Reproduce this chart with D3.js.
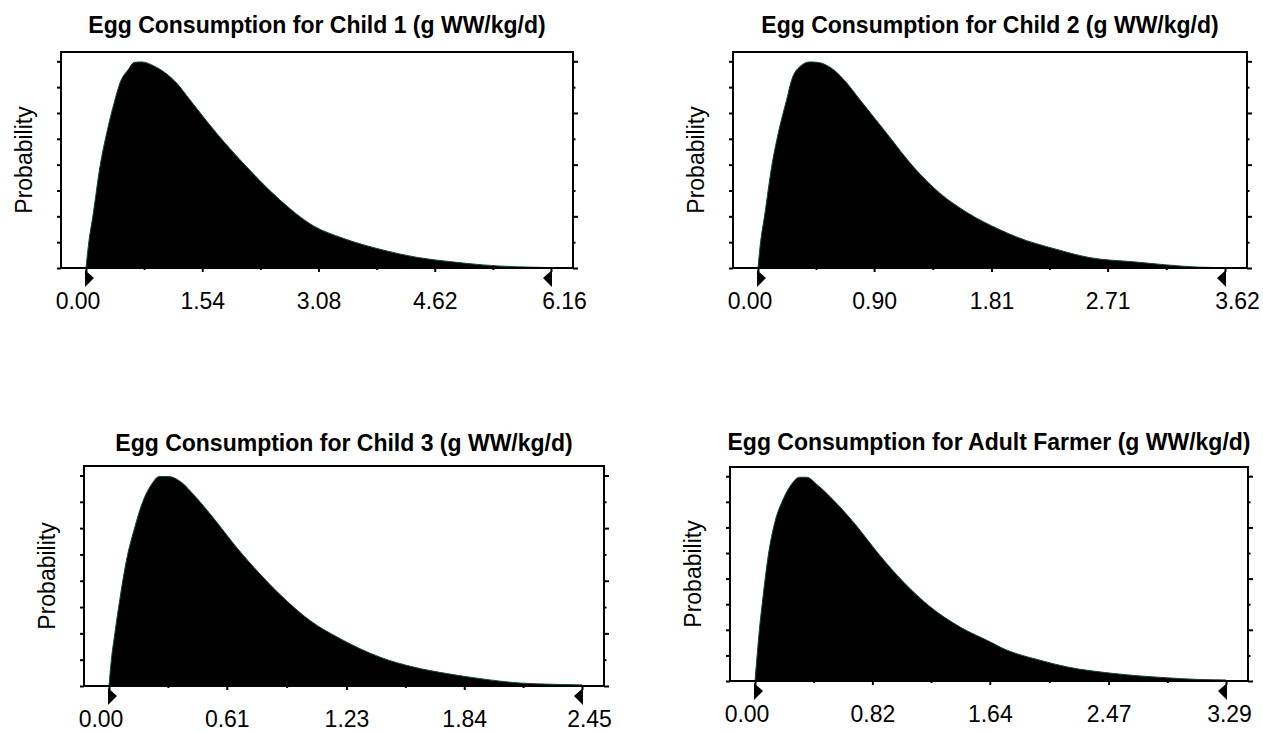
<!DOCTYPE html>
<html>
<head>
<meta charset="utf-8">
<script src="https://cdn.jsdelivr.net/npm/d3@7"></script>
<style>
  body { margin: 0; background: #fff; }
  svg { display: block; font-family: "Liberation Sans", Arial, sans-serif; }
</style>
</head>
<body>
<svg id="chart" width="1263" height="733"></svg>
<script>
// chart titles
var titles = [
  "Egg Consumption for Child 1 (g WW/kg/d)",
  "Egg Consumption for Child 2 (g WW/kg/d)",
  "Egg Consumption for Child 3 (g WW/kg/d)",
  "Egg Consumption for Adult Farmer (g WW/kg/d)"
];

// x tick labels (first and last are the marked min / max)
var child1Ticks = [0.00, 1.54, 3.08, 4.62, 6.16];
var child2Ticks = [0.00, 0.90, 1.81, 2.71, 3.62];
var child3Ticks = [0.00, 0.61, 1.23, 1.84, 2.45];
var adultTicks  = [0.00, 0.82, 1.64, 2.47, 3.29];

// density curves: x value, relative probability (peak = 1)
var child1X = [0, 0.03, 0.097, 0.185, 0.274, 0.384, 0.45, 0.56, 0.64, 0.74, 0.913, 1.2, 1.376, 1.73, 2.127, 2.567, 3.008, 3.405, 3.934, 4.376, 4.817, 5.258, 5.7, 6.16];
var child1Y = [0, 0.103, 0.265, 0.49, 0.652, 0.814, 0.895, 0.96, 0.995, 0.997, 0.975, 0.895, 0.814, 0.652, 0.49, 0.33, 0.205, 0.144, 0.087, 0.052, 0.031, 0.015, 0.006, 0.002];

var child2X = [0, 0.016, 0.054, 0.106, 0.157, 0.222, 0.261, 0.326, 0.4, 0.46, 0.584, 0.688, 0.79, 0.997, 1.204, 1.41, 1.617, 1.876, 2.005, 2.316, 2.574, 2.909, 3.168, 3.426, 3.62];
var child2Y = [0, 0.103, 0.265, 0.49, 0.652, 0.814, 0.91, 0.975, 0.997, 0.995, 0.96, 0.895, 0.814, 0.652, 0.49, 0.362, 0.27, 0.185, 0.15, 0.09, 0.05, 0.03, 0.015, 0.004, 0.002];

var child3X = [0, 0.012, 0.03, 0.055, 0.09, 0.133, 0.176, 0.22, 0.26, 0.31, 0.367, 0.453, 0.539, 0.661, 0.782, 0.92, 1.041, 1.197, 1.404, 1.577, 1.75, 1.923, 2.13, 2.303, 2.45];
var child3Y = [0, 0.122, 0.248, 0.405, 0.595, 0.752, 0.878, 0.957, 0.995, 0.995, 0.973, 0.894, 0.8, 0.658, 0.532, 0.405, 0.311, 0.225, 0.137, 0.09, 0.059, 0.035, 0.014, 0.008, 0.005];

var adultX = [0, 0.012, 0.028, 0.058, 0.093, 0.139, 0.197, 0.255, 0.31, 0.36, 0.44, 0.58, 0.718, 0.858, 1.042, 1.228, 1.436, 1.645, 1.714, 2.015, 2.178, 2.502, 2.873, 3.082, 3.29];
var adultY = [0, 0.101, 0.23, 0.423, 0.614, 0.776, 0.888, 0.961, 0.995, 0.995, 0.955, 0.86, 0.75, 0.625, 0.48, 0.36, 0.262, 0.19, 0.165, 0.097, 0.069, 0.037, 0.016, 0.008, 0.005];

// y ticks (relative probability, no labels)
var yTicks = [0, 0.125, 0.25, 0.375, 0.5, 0.625, 0.75, 0.875, 1];

// where each plot frame sits on the page; end labels sit a little outside the markers
var layout = [
  { left: 61,  right: 573,  top: 52,  bottom: 268, titleY: 33,  firstDx: -8.5, lastDx: 13 },
  { left: 733, right: 1247, top: 52,  bottom: 268, titleY: 33,  firstDx: -8.5, lastDx: 12 },
  { left: 84,  right: 604,  top: 466, bottom: 686, titleY: 451, firstDx: -8.5, lastDx: 7 },
  { left: 730, right: 1248, top: 467, bottom: 681, titleY: 450, firstDx: -8.5, lastDx: 3 }
];

var panels = [
  { title: titles[0], ticks: child1Ticks, xs: child1X, ys: child1Y },
  { title: titles[1], ticks: child2Ticks, xs: child2X, ys: child2Y },
  { title: titles[2], ticks: child3Ticks, xs: child3X, ys: child3Y },
  { title: titles[3], ticks: adultTicks,  xs: adultX,  ys: adultY }
];

var svg = d3.select("#chart");

panels.forEach(function (p, i) {
  drawPanel(p, layout[i]);
});

function drawPanel(p, box) {
  var g = svg.append("g");
  var n = p.ticks.length;
  var maxX = p.ticks[n - 1];

  var x = d3.scaleLinear()
    .domain([0, maxX])
    .range([box.left + 25, box.right - 22]);

  var y = d3.scaleLinear()
    .domain([0, 1.045])
    .range([box.bottom, box.top]);

  var pts = p.xs.map(function (v, k) { return { x: v, y: p.ys[k] }; });

  // filled density
  var area = d3.area()
    .x(function (d) { return x(d.x); })
    .y0(y(0))
    .y1(function (d) { return y(d.y); })
    .curve(d3.curveMonotoneX);

  g.append("path")
    .datum(pts)
    .attr("d", area)
    .attr("fill", "#000")
    .attr("stroke", "#124a2c")
    .attr("stroke-width", 1);

  // minor x ticks half way between the labelled ones
  var minor = [];
  for (var k = 0; k < n - 1; k++) {
    minor.push((p.ticks[k] + p.ticks[k + 1]) / 2);
  }

  g.append("g")
    .attr("transform", "translate(0," + box.bottom + ")")
    .call(d3.axisBottom(x).tickValues(minor).tickSize(2).tickFormat(""))
    .call(function (a) { a.select(".domain").remove(); })
    .selectAll("line").attr("stroke-width", 2);

  var xa = g.append("g")
    .attr("transform", "translate(0," + box.bottom + ")")
    .call(d3.axisBottom(x).tickValues(p.ticks).tickSize(4).tickPadding(21)
      .tickFormat(d3.format(".2f")));
  xa.select(".domain").remove();
  xa.selectAll("line").attr("stroke-width", 2);
  xa.selectAll("text")
    .attr("font-size", 23)
    .attr("font-family", "Liberation Sans, Arial, sans-serif")
    .attr("fill", "#000")
    .attr("dx", function (d, k) {
      if (k === 0) return box.firstDx;
      if (k === n - 1) return box.lastDx;
      return 0;
    });

  // y ticks on both sides, outside the frame
  g.append("g")
    .attr("transform", "translate(" + box.left + ",0)")
    .call(d3.axisLeft(y).tickValues(yTicks).tickSize(4).tickFormat(""))
    .call(function (a) { a.select(".domain").remove(); })
    .selectAll("line").attr("stroke-width", 2);

  var ra = g.append("g")
    .attr("transform", "translate(" + box.right + ",0)")
    .call(d3.axisRight(y).tickValues(yTicks).tickSize(5).tickFormat(""));
  ra.select(".domain").remove();
  ra.selectAll("line")
    .attr("stroke-width", 2)
    .attr("x2", function (d, k) { return k % 2 === 0 ? 5 : 2.5; });

  // frame
  g.append("rect")
    .attr("x", box.left)
    .attr("y", box.top)
    .attr("width", box.right - box.left)
    .attr("height", box.bottom - box.top)
    .attr("fill", "none")
    .attr("stroke", "#000")
    .attr("stroke-width", 2);

  // min / max markers
  var x0 = x(0), x1 = x(maxX), b = box.bottom;
  g.append("path")
    .attr("d", "M" + (x0 - 1) + "," + (b + 2) + "L" + (x0 + 8) + "," + (b + 10) + "L" + (x0 - 1) + "," + (b + 19) + "Z")
    .attr("fill", "#000");
  g.append("path")
    .attr("d", "M" + (x1 + 1) + "," + (b + 2) + "L" + (x1 - 8) + "," + (b + 10) + "L" + (x1 + 1) + "," + (b + 19) + "Z")
    .attr("fill", "#000");

  // title
  g.append("text")
    .attr("x", (box.left + box.right) / 2)
    .attr("y", box.titleY)
    .attr("text-anchor", "middle")
    .attr("font-size", 23)
    .attr("font-weight", "bold")
    .text(p.title);

  // y label
  g.append("text")
    .attr("transform", "translate(" + (box.left - 37) + "," + ((box.top + box.bottom) / 2) + ") rotate(-90)")
    .attr("text-anchor", "middle")
    .attr("dy", "0.35em")
    .attr("font-size", 23)
    .text("Probability");
}
</script>
</body>
</html>
